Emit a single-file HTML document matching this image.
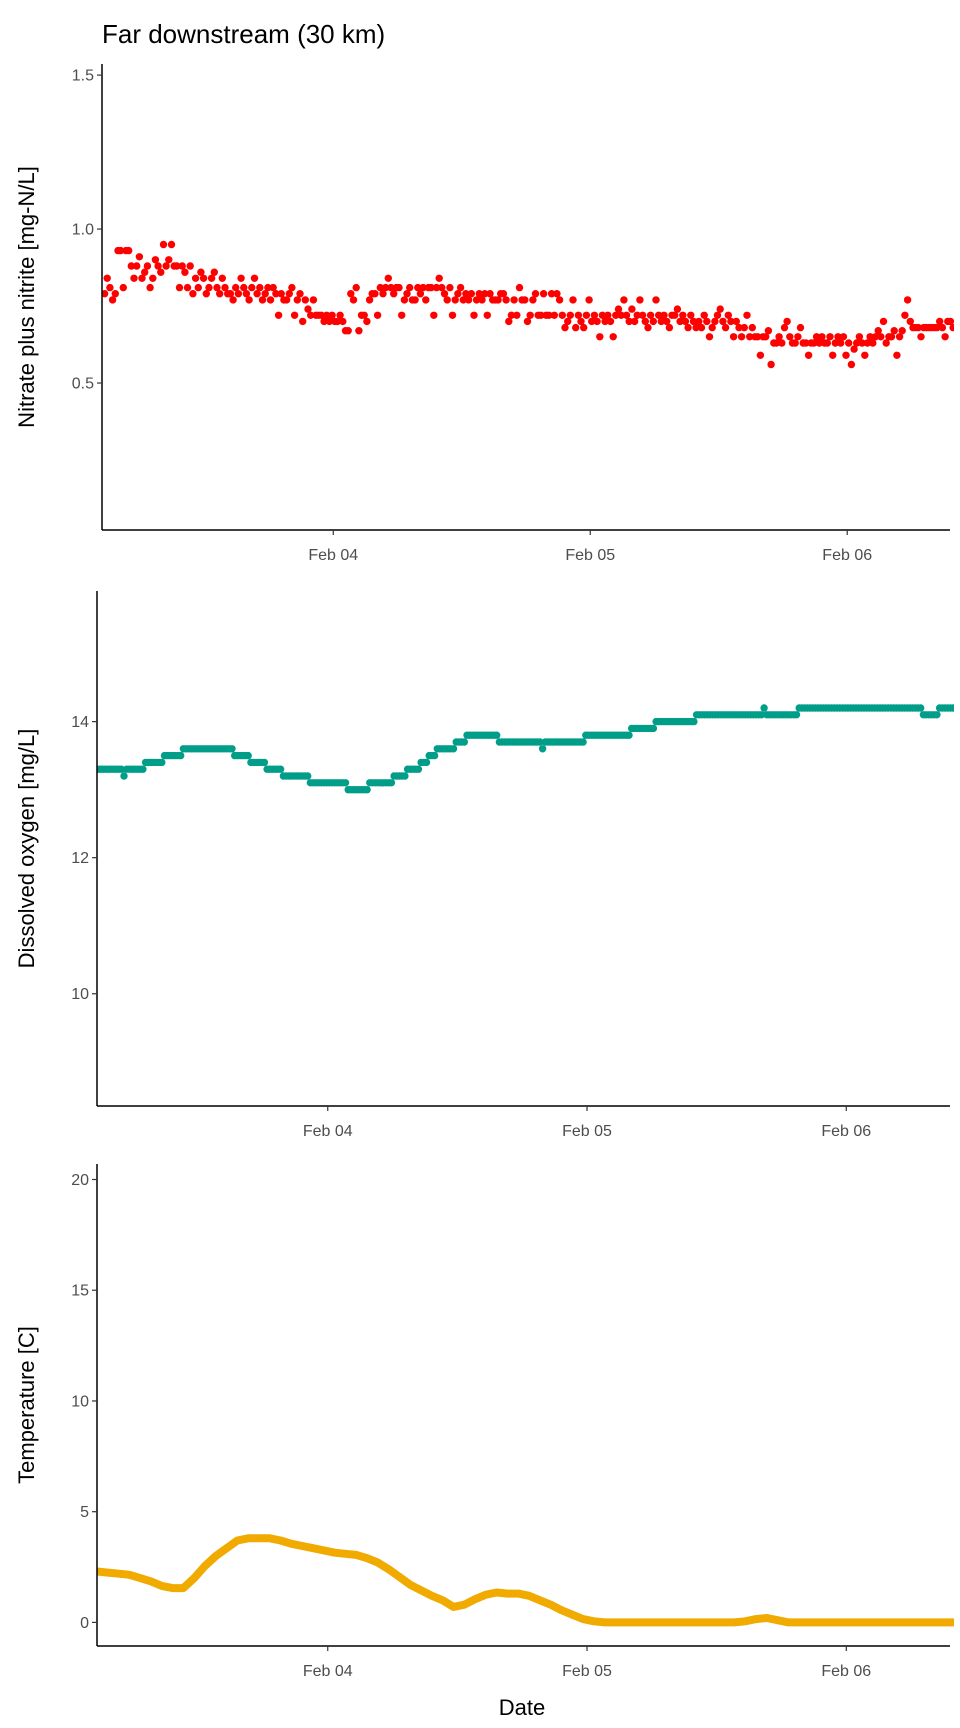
<!DOCTYPE html>
<html><head><meta charset="utf-8"><style>
html,body{margin:0;padding:0;background:#fff;}
svg{display:block;font-family:"Liberation Sans",sans-serif;}
</style></head><body>
<svg id="chart" width="960" height="1728" viewBox="0 0 960 1728" xmlns="http://www.w3.org/2000/svg">
<text x="102" y="43" font-size="26" fill="#000">Far downstream (30 km)</text>
<text x="522" y="1715" font-size="22" text-anchor="middle" fill="#000">Date</text>
</svg>
<script>
// shared time axis (days relative to Feb 04 00:00)
const xTickValues = [0, 1, 2];
const xTickLabels = ["Feb 04", "Feb 05", "Feb 06"];
const sampleStart15 = -0.89;   // first 15-min sample
const sampleStartHr = -0.89;   // first hourly sample

// Nitrate plus nitrite (mg-N/L), every 15 minutes
const nitrate = [
.79,.84,.81,.77,.79,.93,.93,.81,.93,.93,
.88,.84,.88,.91,.84,.86,.88,.81,.84,.90,.88,.86,.95,.88,.90,.95,.88,.88,.81,.88,
.86,.81,.88,.79,.84,.81,.86,.84,.79,.81,.84,.86,.81,.79,.84,.81,.79,.79,.77,.81,.79,.84,.81,.79,.77,.81,.84,.79,.81,.77,
.79,.81,.77,.81,.79,.72,.79,.77,.77,.79,.81,.72,.77,.79,.70,.77,.74,.72,.77,.72,.72,.72,.70,.72,.70,.72,.70,.70,
.72,.70,.67,.67,.79,.77,.81,.67,.72,.72,.70,.77,.79,
.79,.72,.81,.79,.81,.84,.81,.79,.81,.81,.72,.77,.79,.81,.77,.77,.81,.79,.81,.77,.81,.81,.72,.81,.84,.81,.79,.77,.81,.72,.77,.79,.81,.77,.79,
.77,.79,.72,.77,.79,.77,.79,.72,.79,.77,.77,.77,.79,.79,.77,.70,.72,.77,.72,.81,.77,.77,.70,.72,.77,.79,.72,.72,.79,.72,.72,.79,.72,.79,.77,
.72,.68,.70,.72,.77,.68,.72,.70,.68,.72,.77,.70,.72,.70,.65,.72,.70,.72,.70,.65,.72,.74,.72,.77,.72,.70,.74,.70,.72,.77,.72,.70,.68,.72,.70,
.77,.72,.70,.72,.70,.68,.72,.72,.74,.70,.72,.70,.68,.72,.70,.68,.70,.68,.72,.70,.65,.68,.70,.72,.74,.70,.68,.72,.70,.65,.70,.68,.65,.68,.72,
.65,.68,.65,.65,.59,.65,.65,.67,.56,.63,.63,.65,.63,.68,.70,.65,.63,.63,.65,.68,.63,.63,.59,.63,.63,.65,.63,.65,.63,.63,.65,.59,.63,.65,.63,
.65,.59,.63,.56,.61,.63,.65,.63,.59,.63,.65,.63,.65,.67,.65,.70,.63,.65,.65,.67,.59,.65,.67,.72,.77,
.70,.68,.68,.68,.65,.68,.68,.68,.68,.68,.68,.70,.68,.65,.70,.70,.68];

// Dissolved oxygen (mg/L), run-length encoded 15-minute samples
const doValues = [13.3,13.2,13.3,13.4,13.5,13.6,13.5,13.4,13.3,13.2,13.1,13.0,13.1,13.2,13.3,13.4,13.5,13.6,13.7,13.8,13.7,13.6,13.7,13.8,13.9,14.0,14.1,14.2,14.1,14.2,14.1,14.2];
const doCounts = [10,1,7,7,7,19,6,6,6,10,14,8,9,5,5,3,3,7,4,12,16,1,15,17,9,15,25,1,12,46,6,6];

// Temperature (C), hourly
const temperature = [2.3,2.25,2.2,2.15,2.0,1.85,1.65,1.55,1.55,2.0,2.55,3.0,3.35,3.7,3.8,3.8,3.8,3.7,3.55,3.45,
3.35,3.25,3.15,3.1,3.05,2.9,2.7,2.4,2.05,1.7,1.45,1.2,1.0,0.7,0.8,1.05,1.25,1.35,1.3,1.3,
1.2,1.0,0.8,0.55,0.35,0.15,0.05,0,0,0,0,0,0,0,0,0,0,0,0,0,0.05,0.15,0.2,0.1,0,0,0,0,0,0,
0,0,0,0,0,0,0,0,0,0,0];

const nitrateTicks = [0.5, 1.0, 1.5];
const nitrateTickLabels = ["0.5", "1.0", "1.5"];
const doTicks = [10, 12, 14];
const doTickLabels = ["10", "12", "14"];
const tempTicks = [0, 5, 10, 15, 20];
const tempTickLabels = ["0", "5", "10", "15", "20"];

const NS = "http://www.w3.org/2000/svg";
const svg = document.getElementById("chart");
function mk(tag, attrs, parent) {
  const e = document.createElementNS(NS, tag);
  for (const k in attrs) e.setAttribute(k, attrs[k]);
  (parent || svg).appendChild(e);
  return e;
}

function panel(cfg) {
  const g = mk("g", {});
  
  
  const xs = t => cfg.left + (t - cfg.tMin) / (cfg.tMax - cfg.tMin) * (cfg.right - cfg.left);
  const ys = v => cfg.bottom - (v - cfg.vMin) / (cfg.vMax - cfg.vMin) * (cfg.bottom - cfg.top);
  const clipId = cfg.name + "-clip";
  const cp = mk("clipPath", {id: clipId}, g);
  mk("rect", {x: cfg.left, y: cfg.top, width: cfg.right - cfg.left + 4, height: cfg.bottom - cfg.top}, cp);
  const marks = mk("g", {"clip-path": "url(#" + clipId + ")"}, g);
  
  
  if (cfg.line) {
    const pts = cfg.points.map(p => xs(p[0]).toFixed(1) + "," + ys(p[1]).toFixed(1)).join(" ");
    const pl = mk("polyline", {points: pts, fill: "none", stroke: cfg.color, "stroke-width": 8, "stroke-linejoin": "round", "stroke-linecap": "round"}, marks);
    
    
  }
  cfg.points.forEach(p => {
    const c = mk("circle", {cx: xs(p[0]).toFixed(1), cy: ys(p[1]).toFixed(1), r: 3.7, fill: cfg.color}, marks);
    
    
  });
  const ya = mk("line", {x1: cfg.left, y1: cfg.top, x2: cfg.left, y2: cfg.bottom, stroke: "#000", "stroke-width": 1.5}, g);
  
  
  const xa = mk("line", {x1: cfg.left, y1: cfg.bottom, x2: cfg.right, y2: cfg.bottom, stroke: "#000", "stroke-width": 1.5}, g);
  
  
  cfg.yTicks.forEach((v, i) => {
    const y = ys(v);
    mk("line", {x1: cfg.left - 5, y1: y, x2: cfg.left, y2: y, stroke: "#333", "stroke-width": 1.2}, g);
    const t = mk("text", {x: cfg.left - 8, y: y + 5.5, "font-size": 16, "text-anchor": "end", fill: "#4d4d4d"}, g);
    t.textContent = cfg.yLabels[i];
    
    
  });
  xTickValues.forEach((v, i) => {
    const x = xs(v);
    mk("line", {x1: x, y1: cfg.bottom, x2: x, y2: cfg.bottom + 5, stroke: "#333", "stroke-width": 1.2}, g);
    const t = mk("text", {x: x, y: cfg.bottom + 30, "font-size": 16, "text-anchor": "middle", fill: "#4d4d4d"}, g);
    t.textContent = xTickLabels[i];
    
    
  });
  const cy = (cfg.top + cfg.bottom) / 2;
  const yt = mk("text", {x: 34, y: cy, "font-size": 22, "text-anchor": "middle", fill: "#000", transform: "rotate(-90 34 " + cy + ")"}, g);
  yt.textContent = cfg.yTitle;
  
  
}

const step15 = 1 / 96, stepHr = 1 / 24;
const nitratePts = nitrate.map((v, i) => [sampleStart15 + i * step15, v]);
const doPts = [];
let k = 0;
doValues.forEach((v, j) => { for (let n = 0; n < doCounts[j]; n++) { doPts.push([sampleStart15 + k * step15, v]); k++; } });
const tempPts = temperature.map((v, i) => [sampleStartHr + i * stepHr, v]);

panel({name: "nitrate", left: 102, right: 950, top: 64, bottom: 530, tMin: -0.90, tMax: 2.40,
  vMin: 0.0227, vMax: 1.536, yTicks: nitrateTicks, yLabels: nitrateTickLabels,
  yTitle: "Nitrate plus nitrite [mg-N/L]", color: "#FF0000", points: nitratePts});
panel({name: "oxygen", left: 97, right: 950, top: 591, bottom: 1106, tMin: -0.89, tMax: 2.40,
  vMin: 8.35, vMax: 15.92, yTicks: doTicks, yLabels: doTickLabels,
  yTitle: "Dissolved oxygen [mg/L]", color: "#009E88", points: doPts});
panel({name: "temperature", left: 97, right: 950, top: 1164, bottom: 1646, tMin: -0.89, tMax: 2.40,
  vMin: -1.065, vMax: 20.7, yTicks: tempTicks, yLabels: tempTickLabels,
  yTitle: "Temperature [C]", color: "#F0AA00", points: tempPts, line: true});
</script>
</body></html>
